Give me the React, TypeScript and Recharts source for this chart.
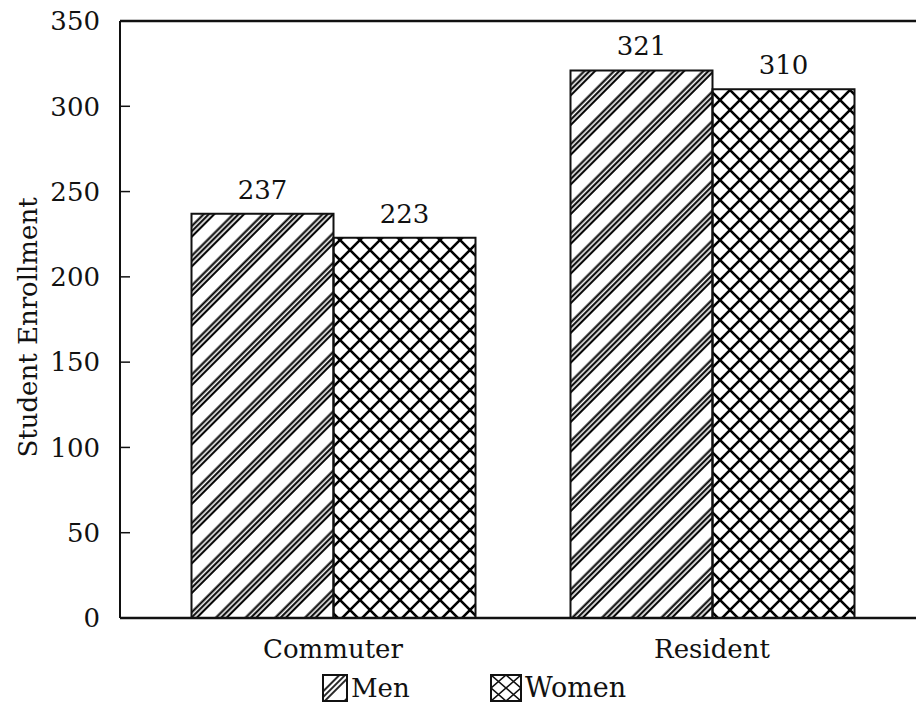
import { Bar, BarChart, LabelList, Legend, ReferenceLine, XAxis, YAxis } from "recharts";

const categories = ["Commuter", "Resident"];
const men = [237, 321];
const women = [223, 310];
const yTicks = [0, 50, 100, 150, 200, 250, 300, 350];

const data = categories.map((name, i) => ({ name, men: men[i], women: women[i] }));

const FONT = "'DejaVu Serif', 'Liberation Serif', serif";

function YLabel(props: any) {
  const vb = props.viewBox || {};
  const cy = (vb.y ?? 21) + (vb.height ?? 597) / 2 + 8;
  return (
    <text
      x={28}
      y={cy}
      transform={`rotate(-90, 28, ${cy})`}
      textAnchor="middle"
      dominantBaseline="central"
      fontSize={26}
      fontFamily={FONT}
      fill="#111"
    >
      Student Enrollment
    </text>
  );
}

function LegendBox() {
  return (
    <svg width={916} height={40} style={{ display: "block" }}>
      <rect x={323} y={7} width={24} height={26} fill="url(#menLeg)" stroke="#111" strokeWidth={2} />
      <text x={351} y={29} fontSize={26} fontFamily={FONT} fill="#111">Men</text>
      <rect x={491} y={7} width={30} height={26} fill="url(#womenLeg)" stroke="#111" strokeWidth={2} />
      <text x={525} y={29} fontSize={27} fontFamily={FONT} fill="#111">Women</text>
      <defs>
        <pattern id="menLeg" patternUnits="userSpaceOnUse" width={22} height={22} patternTransform="rotate(45)">
          <line x1={3} y1={0} x2={3} y2={22} stroke="#111" strokeWidth={1.8} />
          <line x1={7} y1={0} x2={7} y2={22} stroke="#111" strokeWidth={1.8} />
          <line x1={11} y1={0} x2={11} y2={22} stroke="#111" strokeWidth={1.8} />
        </pattern>
        <pattern id="womenLeg" patternUnits="userSpaceOnUse" width={15} height={13} x={491} y={7}>
          <path d="M0,0 L15,13 M15,0 L0,13" stroke="#111" strokeWidth={1.6} />
        </pattern>
      </defs>
    </svg>
  );
}

export default function App() {
  return (
    <div style={{ position: "absolute", left: 0, top: 0, background: "#fff" }}>
      <BarChart
        width={916}
        height={712}
        data={data}
        margin={{ top: 21, right: 0, left: 0, bottom: 4 }}
        barGap={0}
        barCategoryGap={48}
        style={{ fontFamily: FONT }}
      >
        <defs>
          <pattern id="menHatch" patternUnits="userSpaceOnUse" width={21} height={21} patternTransform="rotate(45)">
            <line x1={1.5} y1={0} x2={1.5} y2={21} stroke="#000" strokeWidth={2.1} />
            <line x1={5.2} y1={0} x2={5.2} y2={21} stroke="#000" strokeWidth={2.1} />
            <line x1={8.9} y1={0} x2={8.9} y2={21} stroke="#000" strokeWidth={2.1} />
          </pattern>
          <pattern id="womenHatch" patternUnits="userSpaceOnUse" width={20} height={20}>
            <path d="M0,0 L20,20 M20,0 L0,20" stroke="#000" strokeWidth={2.6} />
          </pattern>
        </defs>
        <XAxis
          dataKey="name"
          height={50}
          padding={{ left: 23.5, right: 14.5 }}
          axisLine={{ stroke: "#111", strokeWidth: 2.5 }}
          tickLine={false}
          tickMargin={16}
          tick={{ fontSize: 26, fill: "#111", fontFamily: FONT }}
        />
        <YAxis
          width={120}
          domain={[0, 350]}
          ticks={yTicks}
          interval={0}
          axisLine={{ stroke: "#111", strokeWidth: 2 }}
          tickLine={{ stroke: "#111", strokeWidth: 1.5 }}
          tickSize={-10}
          tickMargin={30}
          tick={{ fontSize: 26, fill: "#111", fontFamily: FONT }}
          label={<YLabel />}
        />
        <ReferenceLine y={350} stroke="#111" strokeWidth={2.5} ifOverflow="extendDomain" />
        <Legend verticalAlign="bottom" height={40} wrapperStyle={{ left: 0, width: 916 }} content={() => <LegendBox />} />
        <Bar dataKey="men" name="Men" fill="url(#menHatch)" stroke="#111" strokeWidth={2} isAnimationActive={false}>
          <LabelList dataKey="men" position="top" offset={15} fontSize={26} fill="#111" fontFamily={FONT} />
        </Bar>
        <Bar dataKey="women" name="Women" fill="url(#womenHatch)" stroke="#111" strokeWidth={2} isAnimationActive={false}>
          <LabelList dataKey="women" position="top" offset={15} fontSize={26} fill="#111" fontFamily={FONT} />
        </Bar>
      </BarChart>
    </div>
  );
}
